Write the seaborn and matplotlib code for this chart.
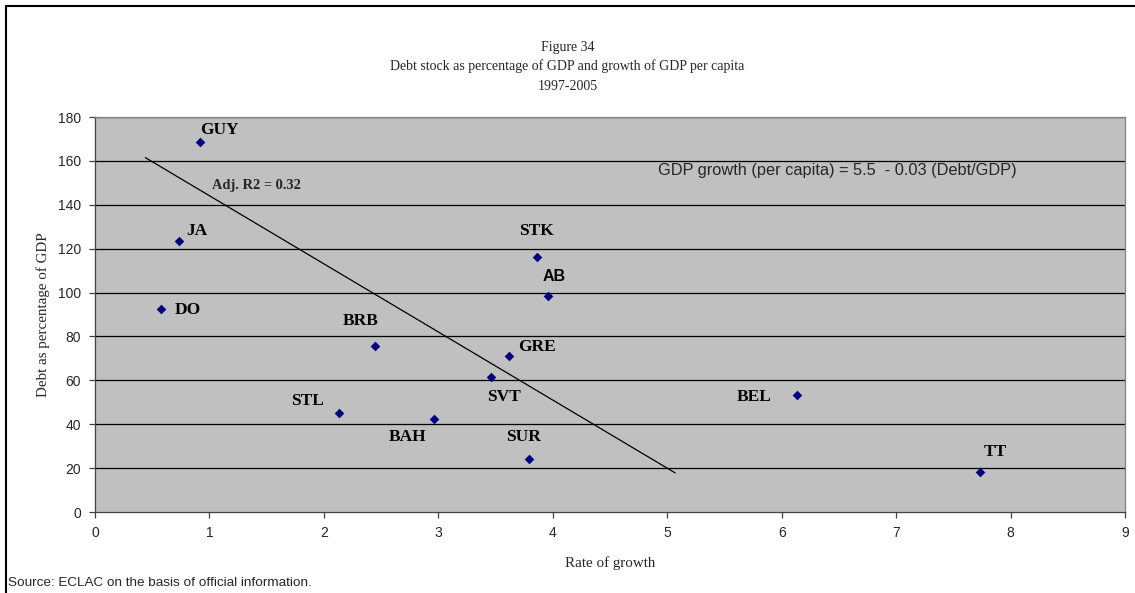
import matplotlib
matplotlib.use("Agg")
import matplotlib.pyplot as plt
import seaborn as sns
import pandas as pd
from matplotlib.lines import Line2D

countries = ["GUY", "JA", "DO", "BRB", "STL", "BAH", "SVT", "GRE", "STK", "AB", "SUR", "BEL", "TT"]
growth = [0.92, 0.73, 0.58, 2.45, 2.13, 2.96, 3.46, 3.62, 3.86, 3.96, 3.79, 6.13, 7.73]
debt = [168.5, 123.7, 92.7, 75.8, 45.2, 42.5, 61.6, 71.2, 116.4, 98.6, 24.2, 53.4, 18.3]
trend_x = [0.44, 5.07]
trend_y = [161.5, 17.8]
x_ticks = list(range(0, 10))
y_ticks = list(range(0, 181, 20))

# label offsets in pixels (dx to left edge, dy to vertical centre)
label_offsets = {
    "GUY": (0, 12), "JA": (8, 10), "DO": (13, -1), "BRB": (-33, 25),
    "STL": (-48, 12), "BAH": (-45, -18), "SVT": (-4, -20), "GRE": (9, 9),
    "STK": (-18, 26), "AB": (-6, 19), "SUR": (-23, 22), "BEL": (-60, -2),
    "TT": (4, 20),
}

df = pd.DataFrame({"country": countries, "growth": growth, "debt": debt})

sns.set_style("white")
plt.rcParams["font.family"] = ["Liberation Sans", "DejaVu Sans"]

fig = plt.figure(figsize=(11.35, 5.93), dpi=100)
ax = fig.add_axes([95/1135, 81/593, 1030/1135, 395/593])
ax.set_facecolor("#C0C0C0")

for yv in y_ticks[1:]:
    ax.axhline(yv, color="black", lw=0.9, zorder=1)

ax.plot(trend_x, trend_y, color="black", lw=0.9, zorder=2)

sns.scatterplot(data=df, x="growth", y="debt", marker="D", color="#000080",
                s=24, edgecolor="#000080", linewidth=0, ax=ax, zorder=3)

for c, gx, dy in zip(countries, growth, debt):
    ox, oy = label_offsets[c]
    if c == "AB":
        fam, fs = ["Liberation Sans"], 11.5
    else:
        fam, fs = ["Liberation Serif"], 12.5
    ax.annotate(c, (gx, dy), xytext=(ox, oy), textcoords="offset pixels",
                ha="left", va="center", fontsize=fs, fontweight="bold",
                family=fam, color="black", zorder=4)

ax.text(1.02, 148.6, "Adj. R2 = 0.32", fontsize=10.4, fontweight="bold",
        family=["Liberation Serif"], va="center", ha="left")
ax.text(4.92, 155.5, "GDP growth (per capita) = 5.5  - 0.03 (Debt/GDP)",
        fontsize=11.8, family=["Liberation Sans"], va="center", ha="left")

ax.set_xlim(0, 9)
ax.set_ylim(0, 180)
ax.set_xticks(x_ticks)
ax.set_yticks(y_ticks)
ax.tick_params(axis="both", direction="out", length=4, width=0.9, color="#404040",
               labelsize=10, pad=6, bottom=True, left=True)
for s in ["left", "bottom"]:
    ax.spines[s].set_color("#404040")
    ax.spines[s].set_linewidth(0.9)
for s in ["top", "right"]:
    ax.spines[s].set_color("#808080")
    ax.spines[s].set_linewidth(0.9)

ax.set_xlabel("Rate of growth", family=["Liberation Serif"], fontsize=10.8, labelpad=12)
ax.set_ylabel("Debt as percentage of GDP", family=["Liberation Serif"], fontsize=10.8, labelpad=6)

fig.text(0.5, 1 - 47/593, "Figure 34", ha="center", va="center",
         family=["Liberation Serif"], fontsize=10)
fig.text(0.5, 1 - 66/593, "Debt stock as percentage of GDP and growth of GDP per capita",
         ha="center", va="center", family=["Liberation Serif"], fontsize=10)
fig.text(0.5, 1 - 86/593, "1997-2005", ha="center", va="center",
         family=["Liberation Serif"], fontsize=10)
fig.text(8/1135, 1 - 583/593, "Source: ECLAC on the basis of official information.",
         ha="left", va="center", family=["Liberation Sans"], fontsize=9.7)

# outer frame (top and left edges visible in the reference)
fig.lines.append(Line2D([6/1135, 1.0], [1 - 6/593, 1 - 6/593],
                        transform=fig.transFigure, color="black", lw=1.5))
fig.lines.append(Line2D([6/1135, 6/1135], [0.0, 1 - 6/593],
                        transform=fig.transFigure, color="black", lw=1.5))

fig.savefig("out.png", dpi=100)
